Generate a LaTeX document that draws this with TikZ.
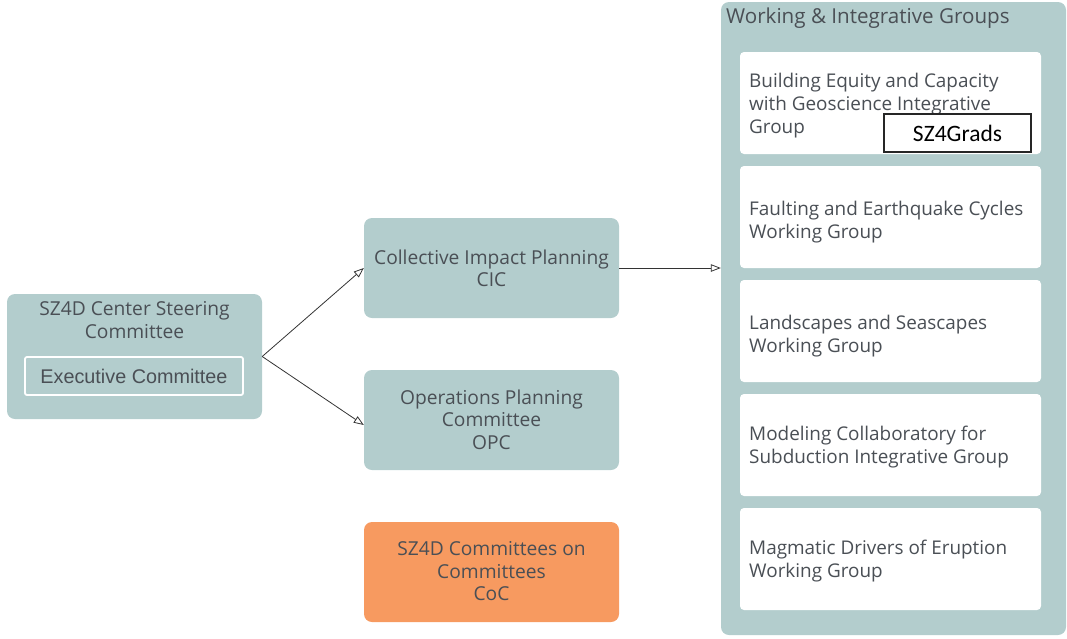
\documentclass[tikz,border=0pt]{standalone}
\usepackage{fontspec}
\setmainfont{Open Sans}
\newfontfamily\arialfont{Liberation Sans}
\newfontfamily\calfont{Carlito}
\usetikzlibrary{arrows.meta,calc}
\definecolor{teal}{HTML}{B3CDCD}
\definecolor{orng}{HTML}{F79A60}
\definecolor{txt}{HTML}{4A4F55}
\tikzset{
  panel/.style={rectangle,rounded corners=8pt,fill=teal,draw=none,inner sep=0pt},
  card/.style={rectangle,rounded corners=4pt,fill=white,draw=none,inner sep=0pt,minimum width=301pt,minimum height=102pt},
  label/.style={text=txt,font=\fontsize{19.2}{22.5}\selectfont,align=center,inner sep=0pt},
  leftlabel/.style={text=txt,font=\fontsize{18.9}{23}\selectfont,align=left,inner sep=0pt,anchor=west},
  link/.style={draw=black!80,line width=0.8pt,-{Triangle[open,length=10pt,width=7.5pt]}}
}
\begin{document}
\begin{tikzpicture}[x=1pt,y=-1pt]
\useasboundingbox (0,0) rectangle (1067,638);

% steering committee
\node[panel,minimum width=255pt,minimum height=125pt] (steer) at (134.5,356.5) {};
\node[label] (steertxt) at (134.5,320) {SZ4D Center Steering\\Committee};
\node[rectangle,rounded corners=2pt,draw=white,line width=1.8pt,fill=teal,minimum width=218pt,minimum height=38pt,inner sep=0pt,text=txt,font=\arialfont\fontsize{19.8}{22}\selectfont] (exec) at (134,376) {Executive Committee};

% planning committees
\node[panel,minimum width=255pt,minimum height=100pt] (cic) at (491.5,268) {};
\node[label] (cictxt) at (491.5,268.5) {Collective Impact Planning\\CIC};
\node[panel,minimum width=255pt,minimum height=100pt] (opc) at (491.5,420) {};
\node[label] (opctxt) at (491.5,419.5) {Operations Planning\\Committee\\OPC};
\node[panel,fill=orng,minimum width=255pt,minimum height=100pt] (coc) at (491.5,572) {};
\node[label] (coctxt) at (491.5,571.5) {SZ4D Committees on\\Committees\\CoC};

% working and integrative groups
\node[panel,minimum width=345pt,minimum height=633pt] (wig) at (893.5,318.5) {};
\node[leftlabel,font=\fontsize{20.6}{24}\selectfont] (wigtxt) at (726,18) {Working \& Integrative Groups};

\node[card] (g1) at (890.5,103) {};
\node[card] (g2) at (890.5,217) {};
\node[card] (g3) at (890.5,331) {};
\node[card] (g4) at (890.5,445) {};
\node[card] (g5) at (890.5,559) {};

\node[leftlabel] (g1txt) at (749,105.5) {Building Equity and Capacity\\with Geoscience Integrative\\Group};
\node[rectangle,draw=black!85,line width=1.2pt,fill=white,minimum width=147pt,minimum height=38pt,inner sep=0pt,font=\calfont\fontsize{23.5}{26}\selectfont] (grads) at (957.5,133) {SZ4Grads};
\node[leftlabel] (g2txt) at (749,222.5) {Faulting and Earthquake Cycles\\Working Group};
\node[leftlabel] (g3txt) at (749,336.5) {Landscapes and Seascapes\\Working Group};
\node[leftlabel] (g4txt) at (749,447.5) {Modeling Collaboratory for\\Subduction Integrative Group};
\node[leftlabel] (g5txt) at (749,561.5) {Magmatic Drivers of Eruption\\Working Group};

% connectors
\draw[link] (steer.east) -- (cic.west);
\draw[link] (steer.east) -- ($(opc.west)+(0,5)$);
\draw[link] (cic.east) -- (cic.east -| wig.west);
\end{tikzpicture}
\end{document}
